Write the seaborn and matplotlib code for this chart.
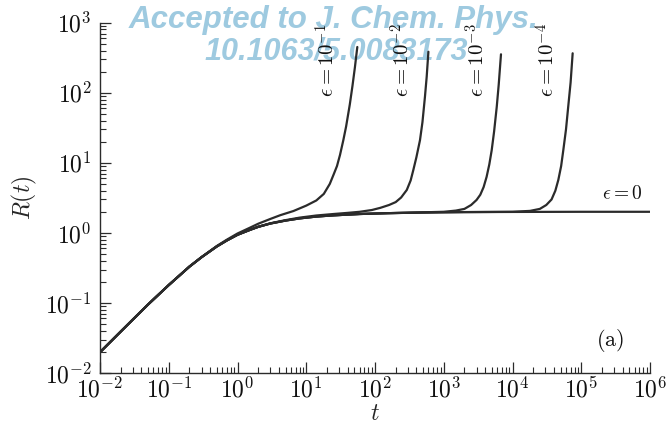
import numpy as np
import pandas as pd
import matplotlib
matplotlib.use("Agg")
import matplotlib.pyplot as plt
import matplotlib.ticker as mticker
import seaborn as sns

# R(t) for eps = 0 (saturates at R = 2)
t_eps0 = [0.01, 0.02, 0.05, 0.1, 0.2, 0.3, 0.5, 0.7, 1.0, 1.5, 2.0, 3.0, 5.0,
          8.0, 14, 25, 60, 150, 450, 2000, 1e4, 1e5, 1e6]
R_eps0 = [0.0198, 0.039, 0.095, 0.18, 0.33, 0.45, 0.64, 0.78, 0.94, 1.10, 1.22,
          1.36, 1.50, 1.61, 1.71, 1.78, 1.86, 1.91, 1.95, 1.98, 1.99, 2.0, 2.0]

# eps = 1e-1
t_eps1 = [0.01, 0.02, 0.05, 0.1, 0.2, 0.3, 0.5, 0.7, 1.0, 1.5, 2.0, 3.0, 4.2,
          6.5, 10, 14, 18, 22, 25, 28, 31, 34.6, 38, 43, 47, 51, 55.3]
R_eps1 = [0.0198, 0.039, 0.095, 0.18, 0.33, 0.45, 0.65, 0.80, 0.98, 1.18, 1.35,
          1.58, 1.79, 2.05, 2.45, 2.9, 3.6, 5.0, 6.8, 9.0, 13, 21, 33, 68, 125,
          230, 450]

# eps = 1e-2
t_eps2 = [0.01, 0.02, 0.05, 0.1, 0.2, 0.3, 0.5, 0.7, 1.0, 1.5, 2.0, 3.0, 5.0,
          8.0, 14, 25, 40, 60, 90, 120, 160, 200, 240, 290, 330, 361, 400, 451,
          490, 533, 565, 598]
R_eps2 = [0.0198, 0.039, 0.095, 0.18, 0.33, 0.45, 0.64, 0.78, 0.94, 1.10, 1.22,
          1.37, 1.52, 1.65, 1.77, 1.86, 1.93, 2.0, 2.12, 2.28, 2.5, 2.75, 3.2,
          4.1, 5.6, 7.9, 12, 21, 38, 88, 170, 385]

# eps = 1e-3
t_eps3 = [0.01, 0.02, 0.05, 0.1, 0.2, 0.3, 0.5, 0.7, 1.0, 1.5, 2.0, 3.0, 5.0,
          8.0, 14, 25, 60, 150, 450, 1000, 1500, 2000, 2500, 3000, 3400, 3800,
          4200, 4600, 4980, 5400, 5900, 6300, 6800]
R_eps3 = [0.0198, 0.039, 0.095, 0.18, 0.33, 0.45, 0.64, 0.78, 0.94, 1.10, 1.22,
          1.36, 1.50, 1.61, 1.71, 1.78, 1.86, 1.91, 1.96, 2.0, 2.08, 2.2, 2.5,
          2.95, 3.5, 4.5, 6.3, 9.5, 15.1, 28, 63, 130, 354]

# eps = 1e-4
t_eps4 = [0.01, 0.02, 0.05, 0.1, 0.2, 0.3, 0.5, 0.7, 1.0, 1.5, 2.0, 3.0, 5.0,
          8.0, 14, 25, 60, 150, 450, 2000, 1e4, 1.8e4, 2.5e4, 3.1e4, 3.7e4,
          4.2e4, 4.64e4, 5.1e4, 5.48e4, 6.0e4, 6.46e4, 7.0e4, 7.5e4]
R_eps4 = [0.0198, 0.039, 0.095, 0.18, 0.33, 0.45, 0.64, 0.78, 0.94, 1.10, 1.22,
          1.36, 1.50, 1.61, 1.71, 1.78, 1.86, 1.91, 1.95, 1.98, 2.0, 2.06, 2.2,
          2.5, 3.0, 4.0, 5.7, 9.0, 15.1, 30, 63, 140, 366]

curve_names = ["0", "1e-1", "1e-2", "1e-3", "1e-4"]
curve_t = [t_eps0, t_eps1, t_eps2, t_eps3, t_eps4]
curve_R = [R_eps0, R_eps1, R_eps2, R_eps3, R_eps4]

frames = [pd.DataFrame({"t": tt, "R": rr, "eps": name})
          for name, tt, rr in zip(curve_names, curve_t, curve_R)]
df = pd.concat(frames, ignore_index=True)

sns.set_theme(style="ticks")
plt.rcParams["font.family"] = ["DejaVu Serif"]
plt.rcParams["mathtext.fontset"] = "cm"

ink = "#2b2b2b"
fig = plt.figure(figsize=(6.7, 4.3), dpi=100)
ax = fig.add_axes([100 / 670, 1 - 373 / 430, 550 / 670, 350.3 / 430])
ax.set_facecolor("none")

sns.lineplot(data=df, x="t", y="R", hue="eps", units="eps", estimator=None,
             palette=[ink] * len(curve_names), legend=False, linewidth=1.6,
             ax=ax)

ax.set_xscale("log")
ax.set_yscale("log")
ax.set_xlim(1e-2, 1e6)
ax.set_ylim(1e-2, 1e3)

ax.xaxis.set_major_locator(mticker.LogLocator(base=10, numticks=20))
ax.yaxis.set_major_locator(mticker.LogLocator(base=10, numticks=20))
ax.xaxis.set_minor_locator(mticker.LogLocator(base=10, subs=np.arange(2, 10), numticks=40))
ax.yaxis.set_minor_locator(mticker.LogLocator(base=10, subs=np.arange(2, 10), numticks=40))
ax.xaxis.set_minor_formatter(mticker.NullFormatter())
ax.yaxis.set_minor_formatter(mticker.NullFormatter())
pow_fmt = mticker.FuncFormatter(lambda v, _: r"$10^{%d}$" % int(round(np.log10(v))))
ax.xaxis.set_major_formatter(pow_fmt)
ax.yaxis.set_major_formatter(pow_fmt)

ax.tick_params(which="major", direction="in", length=8, width=0.9,
               color=ink, labelsize=17, labelcolor="#111111")
ax.tick_params(which="minor", direction="in", length=4.5, width=0.8, color=ink)
ax.tick_params(axis="y", which="major", pad=6)
ax.tick_params(axis="x", which="major", pad=3)

sns.despine(ax=ax)
for side in ("left", "bottom"):
    ax.spines[side].set_color(ink)
    ax.spines[side].set_linewidth(1.0)

ax.set_xlabel(r"$t$", fontsize=17, labelpad=0)
ax.set_ylabel(r"$R(t)$", fontsize=17, labelpad=4)

# curve labels
label_pos = [(20, 290, r"$\epsilon=10^{-1}$"), (247, 290, r"$\epsilon=10^{-2}$"),
             (3050, 290, r"$\epsilon=10^{-3}$"), (31800, 290, r"$\epsilon=10^{-4}$")]
for x, y, s in label_pos:
    ax.text(x, y, s, rotation=90, ha="center", va="center", fontsize=15,
            color="#111111")
ax.text(3.9e5, 3.6, r"$\epsilon=0$", ha="center", va="center", fontsize=14,
        color="#111111")
ax.text(0.927, 0.094, r"$\mathrm{(a)}$", transform=ax.transAxes, ha="center",
        va="center", fontsize=16, color="#111111")

# journal stamp behind the plot
stamp = dict(family="Liberation Sans", weight="bold", style="italic",
             color="#9ecae0", ha="center", va="baseline", zorder=-5)
fig.text(333.5 / 670, 1 - 28 / 430, "Accepted to J. Chem. Phys.", fontsize=22.5, **stamp)
fig.text(336 / 670, 1 - 60 / 430, "10.1063/5.0083173", fontsize=22, **stamp)

fig.savefig("out.png", dpi=100)
